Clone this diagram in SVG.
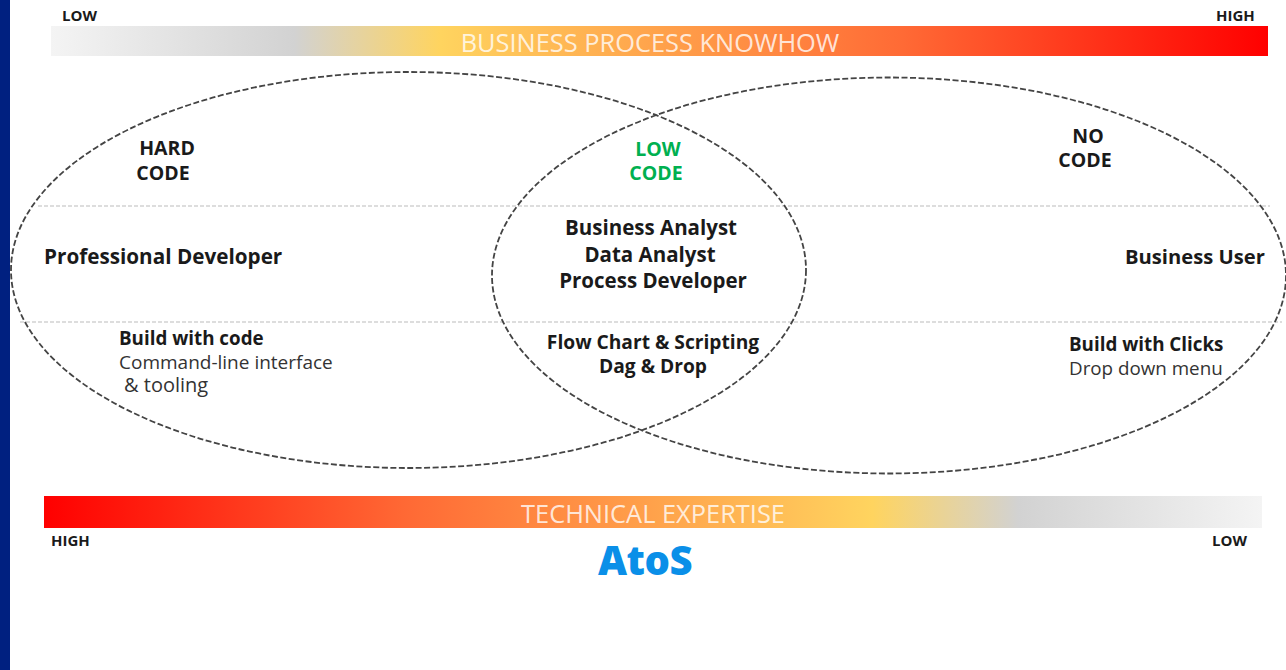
<svg xmlns="http://www.w3.org/2000/svg" width="1286" height="670" viewBox="0 0 1286 670">
<style>
text{font-family:"Open Sans","Noto Sans","Liberation Sans",sans-serif;fill:#1a1a1a}
.b{font-weight:700;font-size:20.500px}
.k{font-weight:700;font-size:19.500px}
.c{font-weight:700;font-size:18.800px}
.f{font-weight:700;font-size:19.200px}
.m{text-anchor:middle}
.h{font-weight:700;font-size:15px}
.s{font-size:19px;fill:#333}
.bar{font-size:25.400px;fill:#fff;fill-opacity:.8;text-anchor:middle}
.e{fill:none;stroke:#444;stroke-width:1.800;stroke-dasharray:6 2.500}
.g{stroke:#bbb;stroke-width:1.200;stroke-dasharray:4 2;fill:none}
</style>
<defs>
<linearGradient id="g1" x1="0" x2="1" y1="0" y2="0">
<stop offset="0" stop-color="#f4f4f4"/><stop offset=".2" stop-color="#d2d2d2"/><stop offset=".32" stop-color="#ffd45f"/><stop offset=".7" stop-color="#ff6a35"/><stop offset="1" stop-color="#ff0000"/>
</linearGradient>
<linearGradient id="g2" x1="0" x2="1" y1="0" y2="0">
<stop offset="0" stop-color="#ff0000"/><stop offset=".3" stop-color="#ff6a35"/><stop offset=".68" stop-color="#ffd45f"/><stop offset=".8" stop-color="#d2d2d2"/><stop offset="1" stop-color="#f4f4f4"/>
</linearGradient>
</defs>
<rect width="1286" height="670" fill="#fff"/>
<rect id="side" x="0" y="0" width="10" height="670" fill="#002080"/>
<g id="top-scale">
<rect x="51" y="26" width="1217" height="30" fill="url(#g1)"/>
<text class="bar" x="650" y="52">BUSINESS PROCESS KNOWHOW</text>
<text class="h" x="62" y="21">LOW</text>
<text class="h" x="1216" y="21">HIGH</text>
</g>
<g id="bottom-scale">
<rect x="44" y="496" width="1218" height="32" fill="url(#g2)"/>
<text class="bar" x="653" y="523">TECHNICAL EXPERTISE</text>
<text class="h" x="51" y="546">HIGH</text>
<text class="h" x="1212" y="546">LOW</text>
</g>
<g id="connectors">
<line class="g" x1="38" y1="206" x2="1270" y2="206"/>
<line class="g" x1="20" y1="322" x2="1282" y2="322"/>
<ellipse class="e" cx="408.500" cy="270" rx="397.500" ry="198"/>
<ellipse class="e" cx="889" cy="275.500" rx="397" ry="198"/>
</g>
<g id="hard-code">
<text class="k m" x="167" y="155">HARD</text>
<text class="k m" x="163" y="180">CODE</text>
<text class="b" x="44" y="264" style="font-size:20.700px">Professional Developer</text>
<text class="c" x="119" y="345">Build with code</text>
<text class="s" x="119" y="369">Command-line interface</text>
<text class="s" x="124" y="392" style="font-size:20px">&amp; tooling</text>
</g>
<g id="low-code">
<text class="k m" x="658" y="156" style="fill:#00b050">LOW</text>
<text class="k m" x="656" y="180" style="fill:#00b050">CODE</text>
<text class="b m" x="651" y="235">Business Analyst</text>
<text class="b m" x="650" y="262">Data Analyst</text>
<text class="b m" x="653" y="288">Process Developer</text>
<text class="f m" x="653" y="349">Flow Chart &amp; Scripting</text>
<text class="f m" x="653" y="373">Dag &amp; Drop</text>
</g>
<g id="no-code">
<text class="k m" x="1088" y="143">NO</text>
<text class="k m" x="1085" y="167">CODE</text>
<text class="b" x="1125" y="264" style="font-size:20.200px">Business User</text>
<text class="c" x="1069" y="351">Build with Clicks</text>
<text class="s" x="1069" y="375" style="font-size:18.800px">Drop down menu</text>
</g>
<g id="logo">
<text x="645" y="575" text-anchor="middle" style="font-size:40px;font-weight:800;fill:#0a8fe8;letter-spacing:-.5px">AtoS</text>
</g>
</svg>
